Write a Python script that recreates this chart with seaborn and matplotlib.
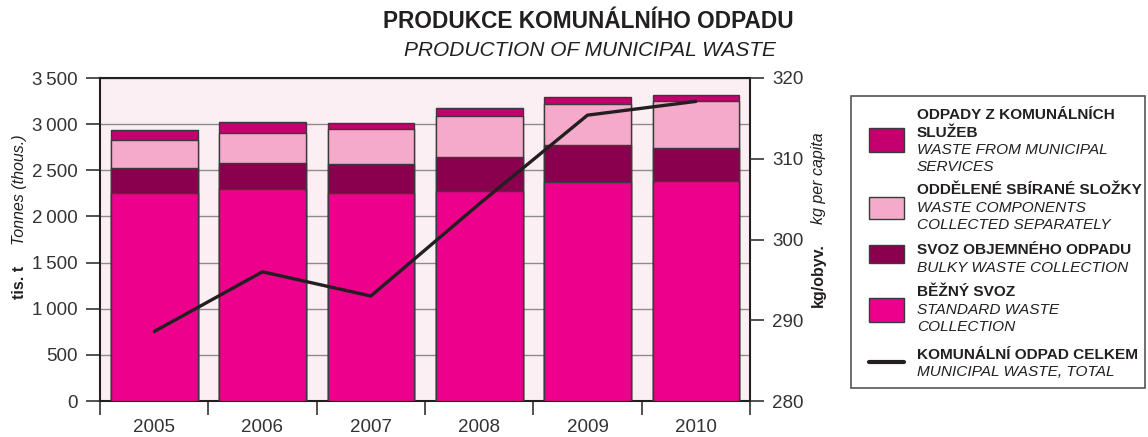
import numpy as np
import pandas as pd
import matplotlib
matplotlib.use("Agg")
import matplotlib.pyplot as plt
import seaborn as sns
from matplotlib.patches import Rectangle
from matplotlib.lines import Line2D
from matplotlib.ticker import FixedLocator, FuncFormatter, NullFormatter

years = ["2005", "2006", "2007", "2008", "2009", "2010"]
standard = [2250, 2296, 2257, 2274, 2369, 2383]
bulky = [280, 282, 310, 365, 404, 354]
separate = [300, 329, 383, 444, 444, 516]
services = [110, 119, 61, 87, 80, 65]
kg_per_capita = [288.6, 296.0, 293.0, 304.4, 315.4, 317.1]
left_ticks = [0, 500, 1000, 1500, 2000, 2500, 3000, 3500]
right_ticks = [280, 290, 300, 310, 320]

c_standard = "#EC008C"
c_bulky = "#8A004E"
c_separate = "#F5A9CB"
c_services = "#C4006E"
txt_c = "#231F20"
tick_c = "#333333"

sns.set_style("ticks")
plt.rcParams["font.family"] = ["Liberation Sans", "DejaVu Sans"]

fig = plt.figure(figsize=(11.48, 4.37), dpi=100)
ax = fig.add_axes([100/1148, 36/437, 650/1148, 323/437])
ax.set_facecolor("#FCEFF3")

df = pd.DataFrame({"year": years, "standard": standard, "bulky": bulky,
                   "separate": separate, "services": services})
df["c1"] = df["standard"]
df["c2"] = df["c1"] + df["bulky"]
df["c3"] = df["c2"] + df["separate"]
df["c4"] = df["c3"] + df["services"]

for col, color in [("c4", c_services), ("c3", c_separate), ("c2", c_bulky), ("c1", c_standard)]:
    sns.barplot(data=df, x="year", y=col, color=color, saturation=1, width=0.8,
                edgecolor="#3a3a3a", linewidth=1.0, ax=ax, zorder=3)

ax.set_xlim(-0.5, 5.5)
ax.set_ylim(0, 3500)
ax.yaxis.set_major_locator(FixedLocator(left_ticks))
ax.yaxis.set_minor_locator(FixedLocator(left_ticks))
ax.yaxis.set_minor_formatter(NullFormatter())
ax.yaxis.set_major_formatter(FuncFormatter(lambda v, p: f"{int(v):,}".replace(",", "\u2009")))
ax.grid(axis="y", which="major", color="#8c8c8c", linewidth=1.0, zorder=0)
ax.set_xlabel("")
ax.set_ylabel("")
ax.xaxis.set_minor_locator(FixedLocator(np.arange(-0.5, 6, 1)))
for s in ax.spines.values():
    s.set_visible(True)
    s.set_color(txt_c)
    s.set_linewidth(1.5)

ax2 = ax.twinx()
sns.lineplot(x=np.arange(len(years)), y=kg_per_capita, color=txt_c, linewidth=2.4, ax=ax2)
ax2.set_ylim(280, 320)
ax2.yaxis.set_major_locator(FixedLocator(right_ticks))
ax2.yaxis.set_minor_locator(FixedLocator(right_ticks))
ax2.yaxis.set_minor_formatter(NullFormatter())
ax2.set_ylabel("")
for s in ax2.spines.values():
    s.set_visible(False)

ax.yaxis.set_ticks_position("left")
ax.tick_params(axis="x", which="major", length=0, pad=13, labelsize=13.5, labelcolor="#333333")
ax.tick_params(axis="x", which="minor", length=10, width=1.2, color=tick_c, bottom=True)
ax.tick_params(axis="y", which="major", length=10, width=1.2, color=tick_c, labelsize=13.5,
               pad=6, labelcolor="#333333", left=True, direction="out")
ax.tick_params(axis="y", which="minor", length=10, width=1.2, color=tick_c,
               left=True, right=False, direction="out")
ax2.yaxis.set_ticks_position("right")
ax2.tick_params(axis="y", which="major", length=10, width=1.2, color=tick_c, labelsize=13.5,
                pad=6, labelcolor="#333333", right=True, direction="out")
ax2.tick_params(axis="y", which="minor", length=10, width=1.2, color=tick_c,
                right=True, left=False, direction="out")

# axis titles
fig.text(20/1148, 1-282/437, "tis. t", rotation=90, fontsize=11.5, fontweight="bold",
         ha="center", va="center", color=txt_c)
fig.text(20/1148, 1-190/437, "Tonnes (thous.)", rotation=90, fontsize=11.5, style="italic",
         ha="center", va="center", color=txt_c)
fig.text(818/1148, 1-275/437, "kg/obyv.", rotation=90, fontsize=11.5, fontweight="bold",
         ha="center", va="center", color=txt_c)
fig.text(818/1148, 1-178/437, "kg per capita", rotation=90, fontsize=11.5, style="italic",
         ha="center", va="center", color=txt_c)

# title
fig.text(588/1148, 1-22/437, "PRODUKCE KOMUNÁLNÍHO ODPADU", fontsize=16.3, fontweight="bold",
         ha="center", va="center", color=txt_c)
fig.text(590/1148, 1-51/437, "PRODUCTION OF MUNICIPAL WASTE", fontsize=15, style="italic",
         ha="center", va="center", color=txt_c)

# legend box
W, H = 1148, 437
def fx(x): return x / W
def fy(y): return 1 - y / H

fig.patches.append(Rectangle((fx(851), fy(388)), (1145-851)/W, (388-96)/H,
                             transform=fig.transFigure, facecolor="white",
                             edgecolor="#555555", linewidth=1.2))
entries = [
    (c_services, (128, 152), [("ODPADY Z KOMUNÁLNÍCH", 115, "bold"), ("SLUŽEB", 133, "bold"),
                              ("WASTE FROM MUNICIPAL", 150, "italic"), ("SERVICES", 167, "italic")]),
    (c_separate, (197, 219), [("ODDĚLENÉ SBÍRANÉ SLOŽKY", 190, "bold"),
                              ("WASTE COMPONENTS", 208, "italic"), ("COLLECTED SEPARATELY", 225, "italic")]),
    (c_bulky, (245, 263), [("SVOZ OBJEMNÉHO ODPADU", 250, "bold"),
                           ("BULKY WASTE COLLECTION", 268, "italic")]),
    (c_standard, (298, 322), [("BĚŽNÝ SVOZ", 292, "bold"), ("STANDARD WASTE", 310, "italic"),
                              ("COLLECTION", 327, "italic")]),
]
for color, (y0, y1), lines in entries:
    fig.patches.append(Rectangle((fx(869), fy(y1)), 35/W, (y1-y0)/H, transform=fig.transFigure,
                                 facecolor=color, edgecolor="#3a3a3a", linewidth=1.0))
    for txt, y, st in lines:
        if st == "bold":
            fig.text(fx(917), fy(y), txt, fontsize=11.1, fontweight="bold", va="center",
                     ha="left", color=txt_c)
        else:
            fig.text(fx(917), fy(y), txt, fontsize=11.1, style="italic", va="center",
                     ha="left", color=txt_c)
fig.lines.append(Line2D([fx(869), fx(904)], [fy(362), fy(362)], transform=fig.transFigure,
                        color=txt_c, linewidth=3.0))
fig.text(fx(917), fy(355), "KOMUNÁLNÍ ODPAD CELKEM", fontsize=11.1, fontweight="bold",
         va="center", ha="left", color=txt_c)
fig.text(fx(917), fy(372), "MUNICIPAL WASTE, TOTAL", fontsize=11.1, style="italic",
         va="center", ha="left", color=txt_c)

fig.savefig("out.png", dpi=100)
